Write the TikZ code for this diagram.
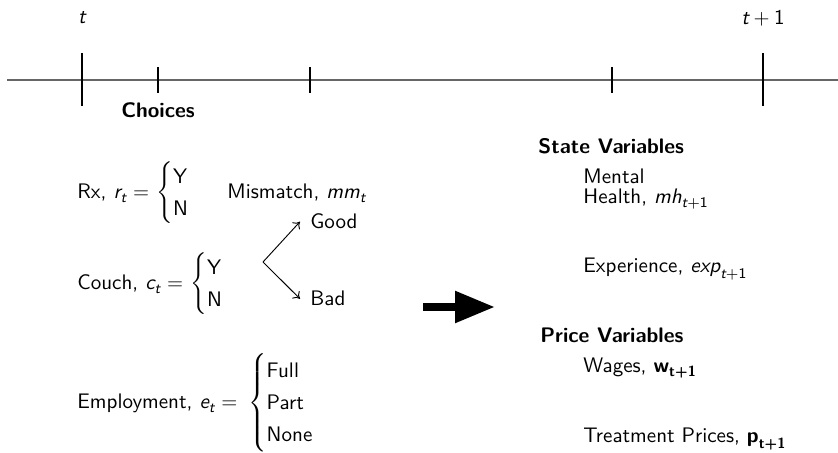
\documentclass[tikz,border=0pt]{standalone}
\usepackage{amsmath}
\usetikzlibrary{arrows.meta}
\newcommand\sv[1]{\text{\itshape #1}}
\newcommand\bv[1]{\text{\bfseries #1}}
\newcommand\mycases[1]{$\left\{\renewcommand\arraystretch{1.26}\begin{array}{@{}l@{}}#1\end{array}\right.$}
\begin{document}
\begin{tikzpicture}[x=0.485pt,y=-0.485pt]
\tikzset{
  lbl/.style={inner sep=0pt, font=\fontsize{10.2}{12.4}\selectfont\sffamily},
  hdr/.style={inner sep=0pt, font=\fontsize{10.2}{12.4}\selectfont\sffamily\bfseries},
  tline/.style={draw=black!60, line width=0.8pt},
  tickmark/.style={draw=black, line width=0.5pt},
  sarrow/.style={-{To[length=3pt,width=5pt]}, line width=0.45pt},
  bigarrow/.style={line width=3.9pt, -{Triangle[length=19.4pt,width=14.6pt]}}
}
\useasboundingbox (0,0) rectangle (838,453);
% timeline
\coordinate (tl0) at (7,80);
\coordinate (tl1) at (838,80);
\draw[tline] (tl0) -- (tl1);
\draw[tickmark] (82,53) -- (82,106);
\draw[tickmark] (763,53) -- (763,106);
\draw[tickmark] (158,67) -- (158,93);
\draw[tickmark] (310,67) -- (310,93);
\draw[tickmark] (612,67) -- (612,93);
\node[lbl] (tt) at (82,18) {$\sv{t}$};
\node[lbl] (tt1) at (763,18) {$\sv{t}+\text{1}$};
\node[hdr] (choices) at (158,110) {Choices};
% left column
\node[lbl, anchor=base west] (rx) at (77,199) {Rx, $\sv{r}_{\sv{t}} =$};
\node[lbl, anchor=west] (rxc) at (156,193) {\mycases{\text{Y}\\ \text{N}}};
\node[lbl, anchor=base west] (mm) at (227,199) {Mismatch, $\sv{mm}_{\sv{t}}$};
\node[lbl, anchor=base west] (couch) at (77,290) {Couch, $\sv{c}_{\sv{t}} =$};
\node[lbl, anchor=west] (couchc) at (190,284) {\mycases{\text{Y}\\ \text{N}}};
\node[lbl, anchor=base west, inner xsep=4.85pt] (good) at (300,229) {Good};
\node[lbl, anchor=base west, inner xsep=4.85pt] (bad) at (300,306) {Bad};
\coordinate (fork) at (263,262);
\draw[sarrow] (fork) -- (good.west);
\draw[sarrow] (fork) -- (bad.west);
\node[lbl, anchor=base west] (emp) at (77,409) {Employment, $\sv{e}_{\sv{t}} =$};
\node[lbl, anchor=west] (empc) at (248,403) {\mycases{\text{Full}\\ \text{Part}\\ \text{None}}};
% big arrow
\coordinate (ba0) at (423,307);
\coordinate (ba1) at (495,307);
\draw[bigarrow] (ba0) -- (ba1);
% right column
\node[hdr, anchor=base west] (state) at (538,154) {State Variables};
\node[lbl, anchor=base west] (mental) at (583,184) {Mental};
\node[lbl, anchor=base west] (health) at (583,204) {Health, $\sv{mh}_{\sv{t}+\text{1}}$};
\node[lbl, anchor=base west] (exper) at (583,273) {Experience, $\sv{exp}_{\sv{t}+\text{1}}$};
\node[hdr, anchor=base west] (price) at (540,343) {Price Variables};
\node[lbl, anchor=base west] (wages) at (583,373) {Wages, $\bv{w}_{\bv{t+1}}$};
\node[lbl, anchor=base west] (treat) at (583,443) {Treatment Prices, $\bv{p}_{\bv{t+1}}$};
\end{tikzpicture}
\end{document}
